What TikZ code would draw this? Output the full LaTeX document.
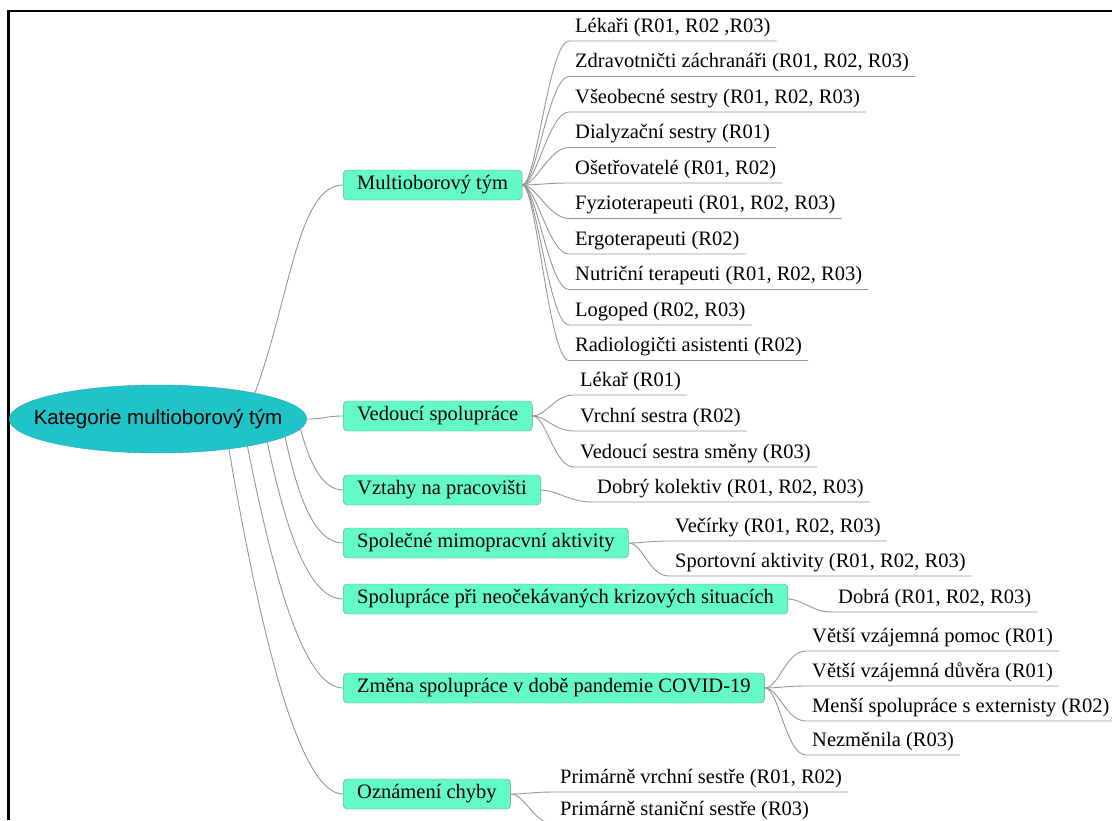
\documentclass[tikz,border=0pt]{standalone}
\usepackage{fontspec}
\setmainfont{Liberation Serif}
\newfontfamily\rootfont{Liberation Sans}
\usetikzlibrary{shapes.geometric}
\definecolor{mint}{RGB}{100,250,200}
\definecolor{mintline}{RGB}{110,150,135}
\definecolor{tealfill}{RGB}{30,196,200}
\definecolor{tealline}{RGB}{50,160,170}
\definecolor{linkgray}{RGB}{150,150,150}
\tikzset{
  link/.style={draw=linkgray, line width=0.9pt},
  root/.style={ellipse, draw=tealline, fill=tealfill, minimum width=297pt, minimum height=68pt,
    inner xsep=-19pt, inner ysep=12pt, font=\rootfont\fontsize{20.5}{24}\selectfont},
  branch/.style={draw=mintline, fill=mint, rounded corners=4pt, anchor=west, minimum height=30pt,
    inner xsep=14pt, inner ysep=0pt, font=\fontsize{20.5}{24}\selectfont},
  leaf/.style={anchor=south west, inner xsep=6pt, inner ysep=4pt, text depth=4.5pt,
    font=\fontsize{20.5}{24}\selectfont},
}
\begin{document}
\begin{tikzpicture}[x=1pt,y=-1pt]
  \useasboundingbox (0,0) rectangle (1112,820);
  \draw[line width=2.5pt] (1112,11) -- (8.5,11) -- (8.5,820);

  % root and branches
  \node[root] (root) at (158,419) {Kategorie multioborový tým};
  \node[branch] (mt) at (343,185) {Multioborový tým};
  \node[branch] (vs) at (343,416) {Vedoucí spolupráce};
  \node[branch] (vp) at (343,490) {Vztahy na pracovišti};
  \node[branch] (sa) at (343,543) {Společné mimopracvní aktivity};
  \node[branch] (sk) at (343,599) {Spolupráce při neočekávaných krizových situacích};
  \node[branch] (zc) at (343,688) {Změna spolupráce v době pandemie COVID-19};
  \node[branch] (oc) at (343,794) {Oznámení chyby};

  \draw[link] (root.15) .. controls +(35,-95) and +(-45,0) .. (mt.west);
  \draw[link] (root.east) .. controls +(18,0) and +(-18,0) .. (vs.west);
  \draw[link] (root.-4) .. controls +(8,30) and +(-22,0) .. (vp.west);
  \draw[link] (root.-8) .. controls +(12,55) and +(-30,0) .. (sa.west);
  \draw[link] (root.-12) .. controls +(18,85) and +(-35,0) .. (sk.west);
  \draw[link] (root.-17.5) .. controls +(25,125) and +(-40,0) .. (zc.west);
  \draw[link] (root.-23.5) .. controls +(30,175) and +(-45,0) .. (oc.west);

  % leaves
  \foreach \name [count=\i] in {{Lékaři (R01, R02 ,R03)}, {Zdravotničti záchranáři (R01, R02, R03)},
      {Všeobecné sestry (R01, R02, R03)}, {Dialyzační sestry (R01)}, {Ošetřovatelé (R01, R02)},
      {Fyzioterapeuti (R01, R02, R03)}, {Ergoterapeuti (R02)}, {Nutriční terapeuti (R01, R02, R03)},
      {Logoped (R02, R03)}, {Radiologičti asistenti (R02)}}{
    \node[leaf] (m\i) at (569,{41+35.5*(\i-1)}) {\name};
    \draw[link] (mt.east) .. controls +(14,0) and +(-20,0) .. (m\i.south west) -- (m\i.south east);
  }
  \foreach \name/\y [count=\i] in {{Lékař (R01)}/395, {Vrchní sestra (R02)}/431, {Vedoucí sestra směny (R03)}/467}{
    \node[leaf] (v\i) at (574,\y) {\name};
    \draw[link] (vs.east) .. controls +(14,0) and +(-20,0) .. (v\i.south west) -- (v\i.south east);
  }
  \node[leaf] (p1) at (591,502) {Dobrý kolektiv (R01, R02, R03)};
  \draw[link] (vp.east) .. controls +(14,0) and +(-20,0) .. (p1.south west) -- (p1.south east);
  \foreach \name/\y [count=\i] in {{Večírky (R01, R02, R03)}/541, {Sportovní aktivity (R01, R02, R03)}/576}{
    \node[leaf] (a\i) at (669,\y) {\name};
    \draw[link] (sa.east) .. controls +(14,0) and +(-20,0) .. (a\i.south west) -- (a\i.south east);
  }
  \node[leaf] (k1) at (832,612) {Dobrá (R01, R02, R03)};
  \draw[link] (sk.east) .. controls +(14,0) and +(-20,0) .. (k1.south west) -- (k1.south east);
  \foreach \name/\y [count=\i] in {{Větší vzájemná pomoc (R01)}/651, {Větší vzájemná důvěra (R01)}/686,
      {Menší spolupráce s externisty (R02)}/721, {Nezměnila (R03)}/755}{
    \node[leaf] (c\i) at (806,\y) {\name};
    \draw[link] (zc.east) .. controls +(14,0) and +(-20,0) .. (c\i.south west) -- (c\i.south east);
  }
  \foreach \name/\y [count=\i] in {{Primárně vrchní sestře (R01, R02)}/792, {Primárně staniční sestře (R03)}/824}{
    \node[leaf] (o\i) at (554,\y) {\name};
    \draw[link] (oc.east) .. controls +(14,0) and +(-20,0) .. (o\i.south west) -- (o\i.south east);
  }
\end{tikzpicture}
\end{document}
